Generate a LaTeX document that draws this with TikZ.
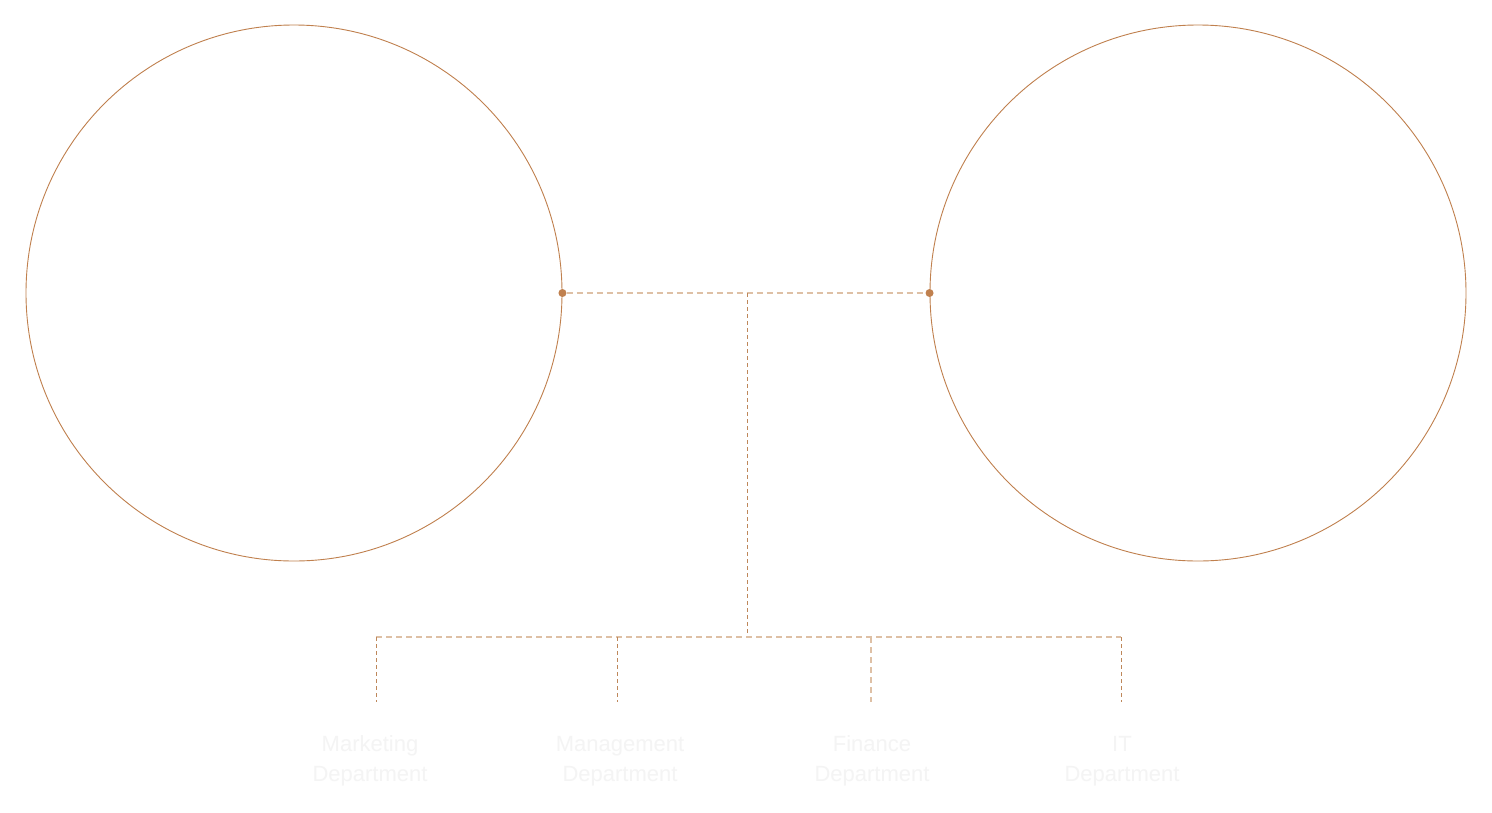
\documentclass[tikz,border=0pt]{standalone}
\usepackage{fontspec}
\setmainfont{Liberation Sans}
\definecolor{ring}{RGB}{192,128,78}
\definecolor{lightdash}{RGB}{222,192,165}
\definecolor{darkdash}{RGB}{190,135,90}
\definecolor{label}{RGB}{244,244,244}
\tikzset{
  ringstyle/.style={draw=ring,line width=0.9pt,circle,inner sep=0pt,minimum size=536pt},
  dotstyle/.style={fill=ring,circle,inner sep=0pt,minimum size=8pt},
  lightline/.style={draw=lightdash,line width=1.5pt,dash pattern=on 6pt off 4pt},
  darkline/.style={draw=darkdash,line width=0.9pt,dash pattern=on 4pt off 3pt},
  deptlabel/.style={text=label,font=\fontsize{22pt}{30pt}\selectfont,align=center,inner sep=0pt}
}
\begin{document}
\begin{tikzpicture}[x=1pt,y=-1pt]
\useasboundingbox (0,0) rectangle (1492,812);
\fill[white] (0,0) rectangle (1492,812);
\node[ringstyle,fill=white] (L) at (294,293) {};
\node[ringstyle,fill=white] (R) at (1198,293) {};
\node[dotstyle] (dl) at (L.east) {};
\node[dotstyle] (dr) at (R.west) {};
\coordinate (mid) at (747,293);
\coordinate (hub) at (747,637);
\coordinate (b1) at (376,637);
\coordinate (b2) at (617,637);
\coordinate (b3) at (871,637);
\coordinate (b4) at (1121,637);
\coordinate (e1) at (376,702);
\coordinate (e2) at (617,702);
\coordinate (e3) at (871,702);
\coordinate (e4) at (1121,702);
\draw[lightline] (dl) -- (dr);
\draw[darkline] (mid) -- (hub);
\draw[lightline] (b1) -- (b4);
\draw[darkline] (b1) -- (e1);
\draw[darkline] (b2) -- (e2);
\draw[lightline] (b3) -- (e3);
\draw[darkline] (b4) -- (e4);
\node[deptlabel] (t1) at (370,761) {Marketing\\Department};
\node[deptlabel] (t2) at (620,761) {Management\\Department};
\node[deptlabel] (t3) at (872,761) {Finance\\Department};
\node[deptlabel] (t4) at (1122,761) {IT\\Department};
\end{tikzpicture}
\end{document}
